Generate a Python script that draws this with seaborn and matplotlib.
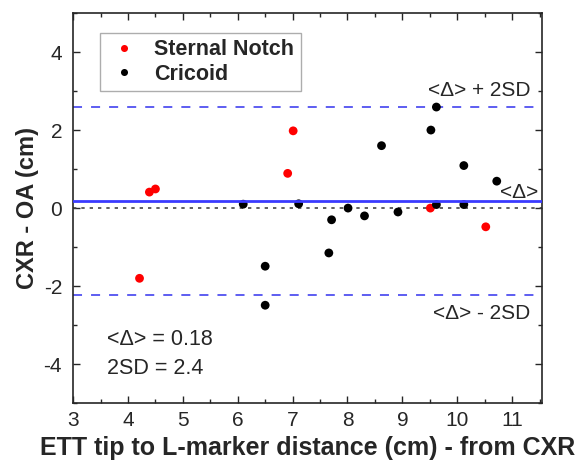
import pandas as pd
import matplotlib
matplotlib.use("Agg")
import matplotlib.pyplot as plt
import seaborn as sns
from matplotlib.ticker import MultipleLocator

# Sternal notch points
sternal_x = [4.21, 4.39, 4.50, 6.91, 7.01, 9.51, 10.52]
sternal_y = [-1.80, 0.41, 0.49, 0.89, 1.98, 0.00, -0.48]

# Cricoid points
cricoid_x = [6.10, 7.11, 8.01, 7.71, 8.31, 7.66, 6.50, 6.50, 8.62,
             9.62, 9.52, 10.12, 10.72, 9.62, 10.12, 8.92]
cricoid_y = [0.10, 0.11, 0.00, -0.30, -0.20, -1.15, -1.49, -2.49, 1.60,
             2.59, 2.00, 1.09, 0.69, 0.09, 0.09, -0.10]

mean_diff = 0.18
two_sd = 2.4
x_ticks = [3, 4, 5, 6, 7, 8, 9, 10, 11]
y_ticks = [-4, -2, 0, 2, 4]

df = pd.DataFrame({
    "x": sternal_x + cricoid_x,
    "y": sternal_y + cricoid_y,
    "group": ["Sternal Notch"] * len(sternal_x) + ["Cricoid"] * len(cricoid_x),
})

sns.set_style("ticks")
plt.rcParams["font.family"] = ["Liberation Sans", "DejaVu Sans"]
plt.rcParams["axes.unicode_minus"] = False

fig = plt.figure(figsize=(5.85, 4.65), dpi=100)
ax = fig.add_axes([0.125, 0.133, 0.802, 0.839])

sns.scatterplot(data=df, x="x", y="y", hue="group",
                palette={"Sternal Notch": "#ff0000", "Cricoid": "#000000"},
                s=40, edgecolor="none", ax=ax, zorder=2)

ax.axhline(mean_diff, color="#3a3aff", lw=2, zorder=3)
ax.axhline(mean_diff + two_sd, color="#5050f0", lw=1.3, ls=(0, (5, 5)), zorder=1)
ax.axhline(mean_diff - two_sd, color="#5050f0", lw=1.3, ls=(0, (5, 5)), zorder=1)
ax.axhline(0, color="#444444", lw=1.2, ls=(0, (2, 3)), zorder=1)

ax.text(11.33, 3.02, "<Δ> + 2SD", ha="right", va="center", fontsize=15)
ax.text(11.48, 0.41, "<Δ>", ha="right", va="center", fontsize=15)
ax.text(11.33, -2.71, "<Δ> - 2SD", ha="right", va="center", fontsize=15)
ax.text(3.62, -3.37, "<Δ> = %.2f" % mean_diff, ha="left", va="center", fontsize=15.5)
ax.text(3.62, -4.12, "2SD = %.1f" % two_sd, ha="left", va="center", fontsize=15.5)

ax.set_xlim(3, 11.55)
ax.set_ylim(-5, 5)
ax.set_xticks(x_ticks)
ax.set_yticks(y_ticks)
ax.xaxis.set_minor_locator(MultipleLocator(0.5))
ax.yaxis.set_minor_locator(MultipleLocator(1))
ax.tick_params(which="both", direction="in", top=True, right=True, labelsize=15)
ax.tick_params(axis="x", which="major", pad=6)
ax.tick_params(axis="y", which="major", pad=8)
ax.tick_params(which="major", length=5, width=1)
ax.tick_params(which="minor", length=3, width=1)
for sp in ax.spines.values():
    sp.set_linewidth(1.2)

ax.set_xlabel("ETT tip to L-marker distance (cm) - from CXR", fontsize=18, fontweight="bold", labelpad=4)
ax.set_ylabel("CXR - OA (cm)", fontsize=17, fontweight="bold", labelpad=3)

leg = ax.legend(loc="upper left", bbox_to_anchor=(0.058, 0.949), borderaxespad=0,
                frameon=True, fancybox=False,
                prop={"weight": "bold", "size": 15.5}, handletextpad=0.6, borderpad=0.3,
                markerscale=0.8, labelspacing=0.15, handlelength=1.6)
leg.get_frame().set_edgecolor("#999999")
leg.get_frame().set_linewidth(1)

fig.savefig("out.png", dpi=100)
